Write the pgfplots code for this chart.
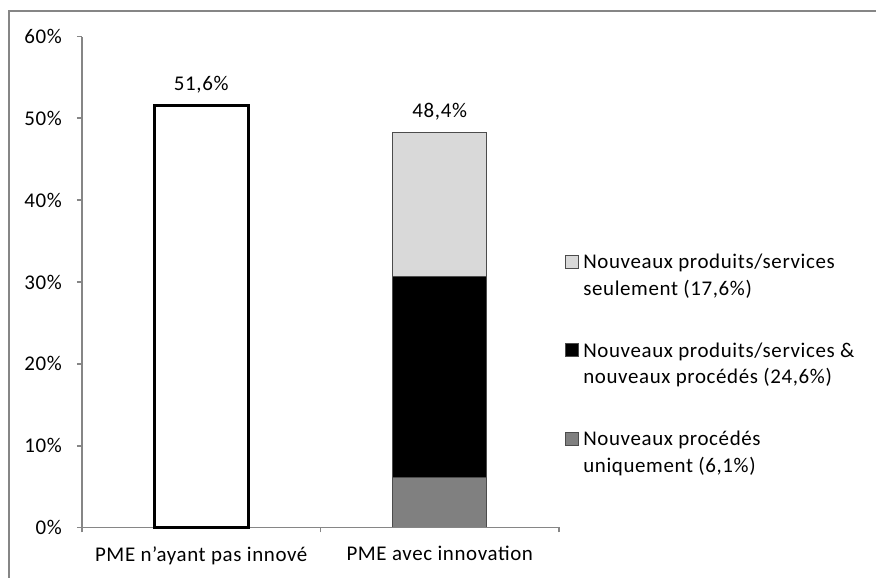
\documentclass[border=0pt]{standalone}
\usepackage{fontspec}
\setmainfont{Carlito}[LetterSpace=3]
\usepackage{pgfplots}
\pgfplotsset{compat=1.18}
\definecolor{axgray}{HTML}{868686}
\definecolor{lgray}{HTML}{D9D9D9}
\definecolor{mgray}{HTML}{808080}
\begin{document}
\fontsize{15.7}{20}\selectfont
\begin{tikzpicture}
\useasboundingbox (0,0) rectangle (657pt,433.5pt);
\draw[axgray, line width=1.5pt] (6.75pt,-20pt) rectangle (700pt,425.25pt);
\pgfplotsset{common/.style={
  at={(61.5pt,37.875pt)}, anchor=south west, scale only axis,
  width=357.75pt, height=368.25pt,
  xmin=-0.5, xmax=1.5, ymin=0, ymax=60,
  bar width=70.5pt, clip=false,
  /pgf/number format/assume math mode=true,
}}
\begin{axis}[common, hide axis, ybar stacked,
  legend style={draw=none, fill=none, at={(1.0126,0.557)}, anchor=north west,
    inner sep=0pt, row sep=33pt, column sep=3pt,
    nodes={inner sep=0pt, align=left}},
  reverse legend, legend cell align=left,
  legend image code/.code={\draw[#1,/tikz/.cd,line width=0.75pt] (0pt,6.0pt) rectangle (9.75pt,15.7pt);}
]
\addplot[fill=mgray, draw=black!70, line width=0.75pt] coordinates {(1,6.1)};
\addlegendentry{Nouveaux procédés\\uniquement (6,1\%)}
\addplot[fill=black, draw=black!70, line width=0.75pt] coordinates {(1,24.6)};
\addlegendentry{Nouveaux produits/services \&\\nouveaux procédés (24,6\%)}
\addplot[fill=lgray, draw=black!70, line width=0.75pt] coordinates {(1,17.6)};
\addlegendentry{Nouveaux produits/services\\seulement (17,6\%)}
\end{axis}
\begin{axis}[common, ybar, bar shift=0pt,
  axis lines*=left, axis line style={axgray, line width=1.3pt},
  xtick={0,1}, xticklabels={PME n'ayant pas innové, PME avec innovation},
  major x tick style={draw=none},
  minor xtick={-0.5,0.5,1.5}, minor x tick style={axgray, line width=1.3pt},
  ytick={0,10,...,60}, yticklabels={0\%,10\%,20\%,30\%,40\%,50\%,60\%},
  y tick style={axgray, line width=1.3pt},
  tick align=outside, major tick length=3.75pt, minor tick length=3.75pt,
  yticklabel style={xshift=-6pt}, xticklabel style={yshift=-5pt},
]
\addplot[fill=white, draw=black, line width=2.2pt, nodes near coords={51,6\%},
  every node near coord/.append style={anchor=south, yshift=3pt}] coordinates {(0,51.6)};
\addplot[fill=none, draw=none, nodes near coords={48,4\%},
  every node near coord/.append style={anchor=south, yshift=3pt}] coordinates {(1,48.4)};
\end{axis}
\end{tikzpicture}
\end{document}
